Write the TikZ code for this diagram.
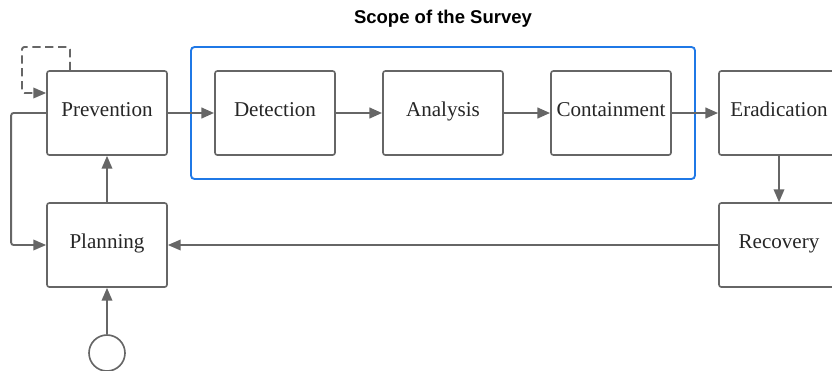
\documentclass[tikz,border=0pt]{standalone}
\usepackage{fontspec}
\setmainfont{Liberation Serif}
\newfontfamily\headfont{Liberation Sans}
\usepackage{tikz}
\usetikzlibrary{arrows.meta,positioning,calc}
\definecolor{linegray}{HTML}{666666}
\definecolor{scopeblue}{HTML}{1F78E6}

\begin{document}
\begin{tikzpicture}[
  phase/.style={draw=linegray, line width=1.4pt, rounded corners=2pt, minimum width=3.6cm, minimum height=2.52cm, align=center, font=\fontsize{18}{21}\selectfont, text=black!85, text height=12pt, text depth=6pt},
  flow/.style={-{Triangle[length=11pt,width=9pt]}, line width=2.3pt, draw=linegray},
  link/.style={-{Triangle[length=11pt,width=9pt]}, line width=1.6pt, draw=linegray}
]
\useasboundingbox (0,0) rectangle (24.96,-11.1);

\node[font=\headfont\bfseries\fontsize{15.8}{18}\selectfont] (title) at (13.29,-0.57) {Scope of the Survey};
\draw[scopeblue, line width=1.6pt, rounded corners=3pt] (5.73,-1.41) rectangle (20.85,-5.37);

\node[phase] (prev) at (3.21,-3.39) {Prevention};
\node[phase] (det) at (8.25,-3.39) {Detection};
\node[phase] (ana) at (13.29,-3.39) {Analysis};
\node[phase] (cont) at (18.33,-3.39) {Containment};
\node[phase] (erad) at (23.37,-3.39) {Eradication};
\node[phase] (plan) at (3.21,-7.35) {Planning};
\node[phase] (rec) at (23.37,-7.35) {Recovery};
\node[draw=linegray, line width=1.4pt, circle, minimum size=1.08cm, inner sep=0pt] (start) at (3.21,-10.59) {};

% main row
\draw[flow] (prev) -- (det);
\draw[flow] (det) -- (ana);
\draw[flow] (ana) -- (cont);
\draw[flow] (cont) -- (erad);

\draw[link] (erad) -- (rec);
\draw[link] (rec) -- (plan);
\draw[link] (plan) -- (prev);
\draw[link] (start) -- (plan);

% feedback loops
\coordinate (loopcorner) at (0.66,-1.41);
\draw[link, dash pattern=on 7pt off 4pt, rounded corners=2pt] ([xshift=-1.11cm]prev.north) |- (loopcorner) |- ([yshift=0.6cm]prev.west);
\draw[link, rounded corners=2pt] (prev.west) -- ++(-1.05,0) |- (plan.west);
\end{tikzpicture}
\end{document}
